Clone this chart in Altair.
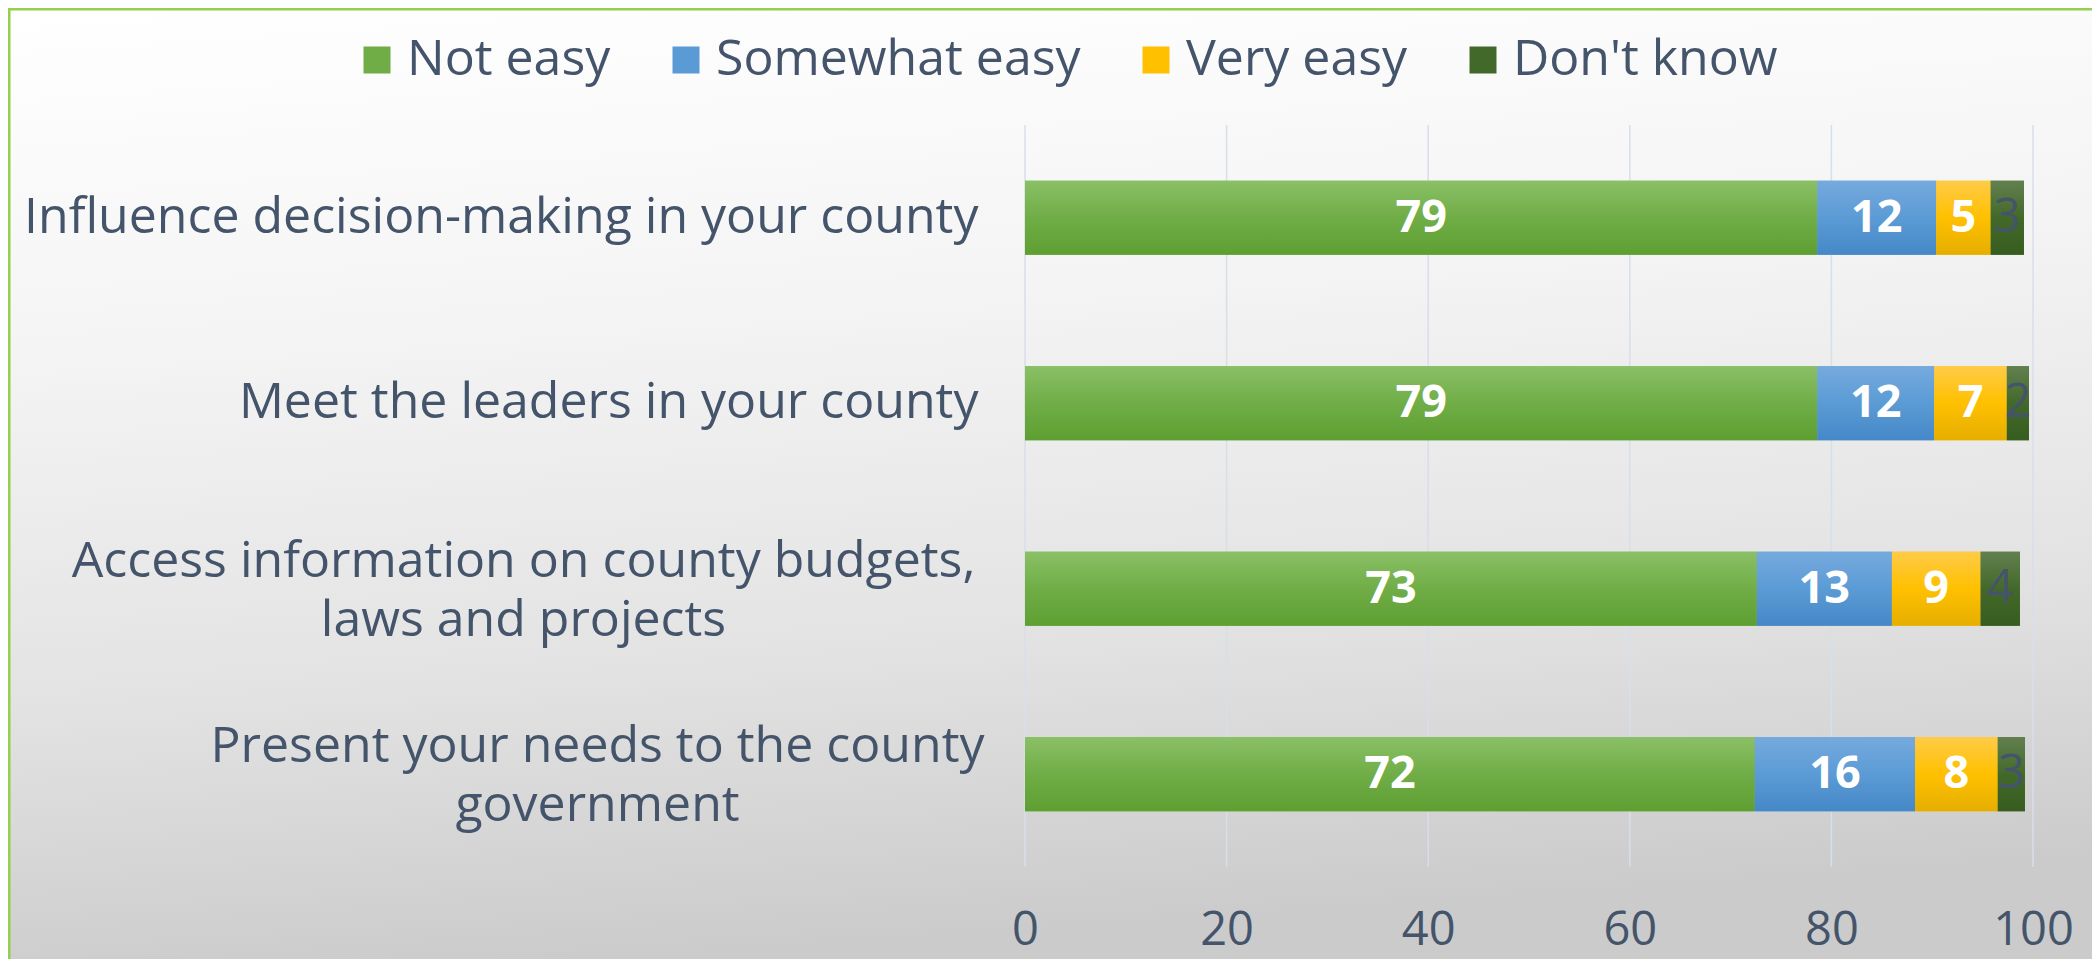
import altair as alt
import pandas as pd

# ---------------- data ----------------
tasks = [
    "Influence decision-making in your county",
    "Meet the leaders in your county",
    "Access information on county budgets,|laws and projects",
    "Present your needs to the county|government",
]
series = ["Not easy", "Somewhat easy", "Very easy", "Don't know"]
not_easy = [78.6, 78.6, 72.6, 72.4]
somewhat_easy = [11.8, 11.6, 13.4, 15.9]
very_easy = [5.4, 7.2, 8.8, 8.2]
dont_know = [3.3, 2.2, 3.9, 2.7]
x_ticks = [0, 20, 40, 60, 80, 100]

colors = ["#70AD47", "#5B9BD5", "#FFC000", "#43692A"]
grad_stops = [
    ("#8AC066", "#70AD47", "#5E9F31"),
    ("#76AADE", "#5B9BD5", "#4588C8"),
    ("#FFCB48", "#FFC000", "#E5AE00"),
    ("#62804F", "#43692A", "#375C1F"),
]

rows = []
for i, t in enumerate(tasks):
    for j, (s, vals) in enumerate(zip(series, [not_easy, somewhat_easy, very_easy, dont_know])):
        rows.append({"task": t, "series": s, "order": j, "value": vals[i]})
df = pd.DataFrame(rows)
tick_df = pd.DataFrame({"tick": x_ticks})
bg_df = pd.DataFrame({"k": [0]})

# ---------------- layout ----------------
W, H = 1008, 742
PAD = {"left": 1017, "top": 117, "right": 59, "bottom": 92}
FONT = "Open Sans"
TXT = "#44546A"


def vgrad(c1, c2, c3):
    return {
        "gradient": "linear", "x1": 0, "y1": 0, "x2": 0, "y2": 1,
        "stops": [
            {"offset": 0, "color": c1},
            {"offset": 0.5, "color": c2},
            {"offset": 1, "color": c3},
        ],
    }


multi = "indexof(datum.value, '|') >= 0"
xscale = alt.Scale(domain=[0, 100], nice=False, zero=True)
x_axis = alt.Axis(
    title=None, domain=False, ticks=False, grid=False, values=x_ticks,
    labelFont=FONT, labelFontSize=47, labelColor=TXT, labelPadding=40,
    labelFlush=False, zindex=1,
)
y_axis = alt.Axis(
    title=None, domain=False, ticks=False, tickSize=0, grid=False,
    labelFont=FONT, labelFontSize=50, labelColor=TXT, labelLimit=3000,
    labelExpr="split(datum.label, '|')", labelLineHeight=59,
    labelBaseline="middle",
    labelAlign={"condition": {"test": multi, "value": "center"}, "value": "right"},
    labelOffset={"condition": {"test": multi, "value": -27}, "value": 0},
    labelPadding={
        "condition": [
            {"test": "indexof(datum.value, 'Access') == 0", "value": 502},
            {"test": "indexof(datum.value, 'Present') == 0", "value": 428},
        ],
        "value": 47,
    },
    zindex=1,
)
yscale = alt.Scale(paddingInner=0.6, paddingOuter=0.3)


def Y():
    return alt.Y("task:N", sort=tasks, scale=yscale, axis=y_axis, title=None)


bg = alt.Chart(bg_df).mark_rect(
    fill={
        "gradient": "linear", "x1": 0, "y1": 0, "x2": 0.15, "y2": 1,
        "stops": [
            {"offset": 0, "color": "#FFFFFF"},
            {"offset": 0.35, "color": "#F4F4F4"},
            {"offset": 0.7, "color": "#E3E3E3"},
            {"offset": 1, "color": "#CBCBCB"},
        ],
    },
    stroke="#92D050", strokeWidth=2.5,
).encode(
    x=alt.value(-PAD["left"] + 1.25), x2=alt.value(W + PAD["right"] + 20),
    y=alt.value(-PAD["top"] + 1.25), y2=alt.value(H + PAD["bottom"] + 20),
)

grid = alt.Chart(tick_df).mark_rule(color="#D8DFE8", strokeWidth=1.5).encode(
    x=alt.X("tick:Q", scale=xscale, axis=x_axis, title=None)
)

base = alt.Chart(df).transform_stack(
    stack="value", groupby=["task"], sort=[alt.SortField("order", "ascending")], as_=["x0", "x1"]
).transform_calculate(mid="(datum.x0 + datum.x1) / 2")

legend_bars = base.mark_bar().encode(
    x=alt.X("x0:Q", scale=xscale, axis=x_axis, title=None),
    x2="x1:Q",
    y=Y(),
    color=alt.Color(
        "series:N", sort=series,
        scale=alt.Scale(domain=series, range=colors),
        legend=alt.Legend(
            title=None, orient="none", legendX=-673, legendY=-90,
            direction="horizontal", symbolType="square", symbolSize=729,
            symbolStrokeWidth=0, labelFont=FONT, labelFontSize=50,
            labelColor=TXT, labelOffset=5, columnPadding=50, padding=0,
            labelLimit=1000, zindex=1,
        ),
    ),
)

overlays = []
for j, s in enumerate(series):
    overlays.append(
        base.transform_filter(alt.datum.order == j).mark_bar(fill=vgrad(*grad_stops[j])).encode(
            x=alt.X("x0:Q", scale=xscale, axis=x_axis, title=None),
            x2="x1:Q",
            y=Y(),
        )
    )

labels_main = base.transform_filter(alt.datum.order < 3).mark_text(
    font=FONT, fontSize=45, fontWeight="bold", color="white", baseline="middle", align="center"
).encode(
    x=alt.X("mid:Q", scale=xscale, axis=x_axis, title=None),
    y=Y(),
    text=alt.Text("value:Q", format=".0f"),
)
labels_dk = base.transform_filter(alt.datum.order == 3).mark_text(
    font=FONT, fontSize=47, color=TXT, baseline="middle", align="center"
).encode(
    x=alt.X("mid:Q", scale=xscale, axis=x_axis, title=None),
    y=Y(),
    text=alt.Text("value:Q", format=".0f"),
)

chart = alt.layer(bg, grid, legend_bars, *overlays, labels_main, labels_dk).properties(
    width=W, height=H, padding=PAD, autosize=alt.AutoSizeParams(type="none"),
).configure_view(stroke=None)

chart.save("out.html", embed_options={"renderer": "svg", "actions": False})
